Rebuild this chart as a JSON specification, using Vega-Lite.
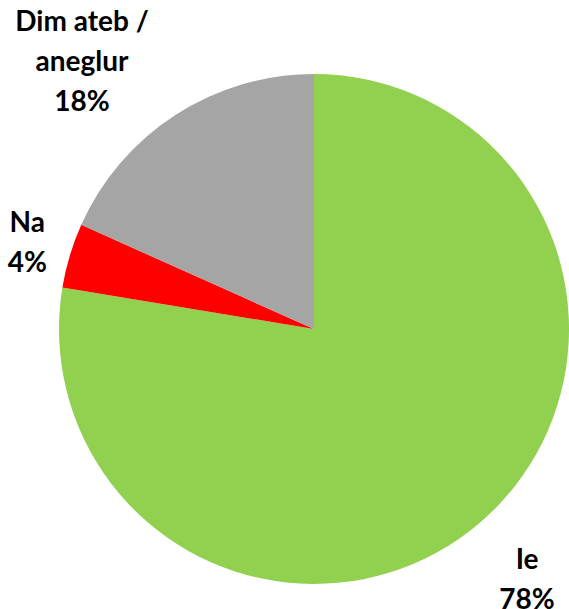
{
  "$schema": "https://vega.github.io/schema/vega-lite/v6.json",
  "autosize": {"type": "none"},
  "width": 510,
  "height": 510,
  "padding": {"left": 59, "top": 74, "right": 0, "bottom": 25},
  "background": "white",
  "config": {"view": {"stroke": null}},
  "data": {
    "values": [
      {"cat": "Ie", "label": "Ie\n78%", "value": 77.6, "order": 1},
      {"cat": "Na", "label": "Na\n4%", "value": 4.1, "order": 2},
      {"cat": "Dim ateb / aneglur", "label": "Dim ateb /\naneglur\n18%", "value": 18.3, "order": 3}
    ]
  },
  "encoding": {
    "theta": {"field": "value", "type": "quantitative", "stack": true},
    "order": {"field": "order", "type": "quantitative"}
  },
  "layer": [
    {
      "mark": {"type": "arc", "outerRadius": 255},
      "encoding": {
        "color": {
          "field": "cat",
          "type": "nominal",
          "scale": {"domain": ["Ie", "Na", "Dim ateb / aneglur"], "range": ["#92D050", "#FF0000", "#A5A5A5"]},
          "legend": null
        }
      }
    },
    {
      "mark": {"type": "text", "radius": 320, "dx": 6, "dy": -12, "font": "Lato", "fontWeight": "bold", "fontSize": 28, "lineBreak": "\n", "lineHeight": 40, "baseline": "middle", "align": "center", "color": "#000000"},
      "encoding": {"text": {"condition": {"test": "datum.cat === 'Ie'", "field": "label"}, "value": ""}}
    },
    {
      "mark": {"type": "text", "radius": 290, "dx": -9, "dy": -21, "font": "Lato", "fontWeight": "bold", "fontSize": 28, "lineBreak": "\n", "lineHeight": 40, "baseline": "middle", "align": "center", "color": "#000000"},
      "encoding": {"text": {"condition": {"test": "datum.cat === 'Na'", "field": "label"}, "value": ""}}
    },
    {
      "mark": {"type": "text", "radius": 320, "dx": -58, "dy": -37, "font": "Lato", "fontWeight": "bold", "fontSize": 28, "lineBreak": "\n", "lineHeight": 40, "baseline": "middle", "align": "center", "color": "#000000"},
      "encoding": {"text": {"condition": {"test": "datum.cat === 'Dim ateb / aneglur'", "field": "label"}, "value": ""}}
    }
  ]
}
